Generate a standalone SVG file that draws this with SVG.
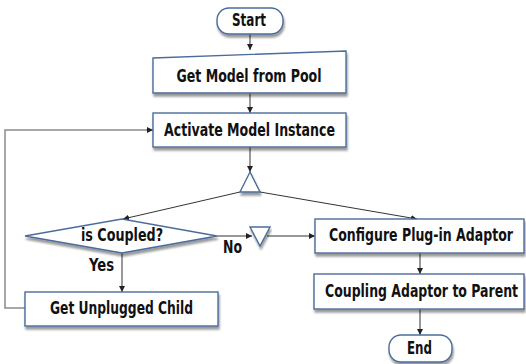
<svg xmlns="http://www.w3.org/2000/svg" width="526" height="364" viewBox="0 0 526 364">
  <defs>
    <marker id="arrow" viewBox="0 0 10 10" refX="10" refY="5" markerWidth="6" markerHeight="6" orient="auto-start-reverse" markerUnits="userSpaceOnUse">
      <path d="M0,0 L10,5 L0,10 z" fill="#222"/>
    </marker>
    <filter id="shadow" x="-10%" y="-20%" width="120%" height="150%">
      <feGaussianBlur in="SourceAlpha" stdDeviation="1.2"/>
      <feOffset dx="1" dy="2.5" result="b"/>
      <feComponentTransfer><feFuncA type="linear" slope="0.4"/></feComponentTransfer>
      <feMerge><feMergeNode/><feMergeNode in="SourceGraphic"/></feMerge>
    </filter>
  </defs>
  <style>
    .box { fill: #ffffff; stroke: #4a6c9b; stroke-width: 1.4; filter: url(#shadow); }
    .line { fill: none; stroke: #333; stroke-width: 1; }
    .loop { fill: none; stroke: #8a8a8a; stroke-width: 1.5; }
    .label { font-family: "DejaVu Sans Condensed", "Liberation Sans Narrow", "Liberation Sans", sans-serif; font-weight: bold; font-size: 14px; fill: #111; text-anchor: middle; dominant-baseline: central; }
  </style>
  <rect width="526" height="364" fill="#ffffff"/>

  <g id="connectors">
    <line class="line" x1="250" y1="34" x2="250" y2="50" marker-end="url(#arrow)"/>
    <line class="line" x1="250" y1="93" x2="250" y2="113" marker-end="url(#arrow)"/>
    <polyline class="loop" points="25,308 5,308 5,130 146,130"/>
    <line class="line" x1="146" y1="130" x2="153" y2="130" marker-end="url(#arrow)"/>
    <line class="line" x1="250" y1="147" x2="250" y2="172" marker-end="url(#arrow)"/>
    <line class="line" x1="240" y1="192" x2="123" y2="219" marker-end="url(#arrow)"/>
    <line class="line" x1="260" y1="192" x2="417" y2="219" marker-end="url(#arrow)"/>
    <line class="line" x1="217" y1="236" x2="252" y2="236" marker-end="url(#arrow)"/>
    <line class="line" x1="267" y1="236" x2="315" y2="236" marker-end="url(#arrow)"/>
    <line class="line" x1="122" y1="253" x2="122" y2="292" marker-end="url(#arrow)"/>
    <line class="line" x1="420" y1="253" x2="420" y2="274" marker-end="url(#arrow)"/>
    <line class="line" x1="420" y1="309" x2="420" y2="335" marker-end="url(#arrow)"/>
    <text class="label" transform="translate(232.5,248) scale(1,1.21)" textLength="19" lengthAdjust="spacingAndGlyphs">No</text>
    <text class="label" transform="translate(101.5,266) scale(1,1.21)" textLength="25" lengthAdjust="spacingAndGlyphs">Yes</text>
  </g>

  <g id="start">
    <rect class="box" x="217" y="8" width="66" height="26" rx="12"/>
    <text class="label" transform="translate(249,21) scale(1,1.21)" textLength="34" lengthAdjust="spacingAndGlyphs">Start</text>
  </g>

  <g id="get-model">
    <polygon class="box" points="153,58 346,51 346,93 153,93"/>
    <text class="label" transform="translate(249,77) scale(1,1.21)" textLength="145" lengthAdjust="spacingAndGlyphs">Get Model from Pool</text>
  </g>

  <g id="activate">
    <rect class="box" x="153" y="113" width="193" height="34"/>
    <text class="label" transform="translate(249.5,130.5) scale(1,1.21)" textLength="171" lengthAdjust="spacingAndGlyphs">Activate Model Instance</text>
  </g>

  <g id="fork">
    <polygon class="box" points="250,172 260,192 240,192"/>
  </g>

  <g id="is-coupled">
    <polygon class="box" points="25,236 122,219 217,236 122,253"/>
    <text class="label" transform="translate(122,236) scale(1,1.21)" textLength="82" lengthAdjust="spacingAndGlyphs">is Coupled?</text>
  </g>

  <g id="merge">
    <polygon class="box" points="250,227 270,227 260,246"/>
  </g>

  <g id="configure">
    <rect class="box" x="315" y="219" width="209" height="34"/>
    <text class="label" transform="translate(421,236) scale(1,1.21)" textLength="184" lengthAdjust="spacingAndGlyphs">Configure Plug-in Adaptor</text>
  </g>

  <g id="coupling">
    <rect class="box" x="314" y="274" width="210" height="35"/>
    <text class="label" transform="translate(421.5,291.5) scale(1,1.21)" textLength="193" lengthAdjust="spacingAndGlyphs">Coupling Adaptor to Parent</text>
  </g>

  <g id="end">
    <rect class="box" x="389" y="335" width="63" height="27" rx="12"/>
    <text class="label" transform="translate(419.5,349) scale(1,1.21)" textLength="25" lengthAdjust="spacingAndGlyphs">End</text>
  </g>

  <g id="unplugged">
    <rect class="box" x="25" y="292" width="193" height="34"/>
    <text class="label" transform="translate(121.5,309) scale(1,1.21)" textLength="143" lengthAdjust="spacingAndGlyphs">Get Unplugged Child</text>
  </g>
</svg>
